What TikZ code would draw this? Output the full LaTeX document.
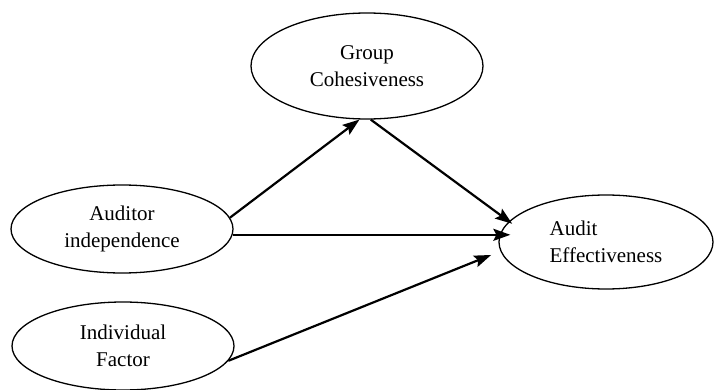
\documentclass[tikz,border=0pt]{standalone}
\usepackage{fontspec}
\setmainfont{Liberation Serif}
\usetikzlibrary{shapes.geometric,arrows.meta}

\begin{document}
\begin{tikzpicture}[x=1pt, y=-1pt,
		var/.style={
			draw, ellipse, line width=1.3pt, inner sep=0pt,
			minimum width=222pt, minimum height=88pt,
			align=center, font=\fontsize{21}{27}\selectfont
			},
		link/.style={
			line width=2.2pt,
			-{Stealth[length=17pt,width=12pt,inset=3pt]}
			}
		]
		\useasboundingbox (0,0) rectangle (714,390);

		\node[var, minimum width=232pt, minimum height=106pt] (grp) at (367,66) {Group\\Cohesiveness};
		\node[var] (aud) at (122,229) {Auditor\\independence};
		\node[var] (ind) at (123,346) {Individual\\Factor};
		\node[var, align=left, minimum width=214pt, minimum height=94pt] (eff) at (606,242) {Audit\\Effectiveness};

		\draw[link] (aud.6) -- (grp.262);
		\draw[link, shorten >=-4pt] (grp.274) -- (eff.168);
		\draw[link, shorten >=-12pt] (aud.-3) -- (aud.-3 -| eff.west);
		\draw[link, shorten >=10pt] (ind.-8) -- (eff.185);
	\end{tikzpicture}
\end{document}
